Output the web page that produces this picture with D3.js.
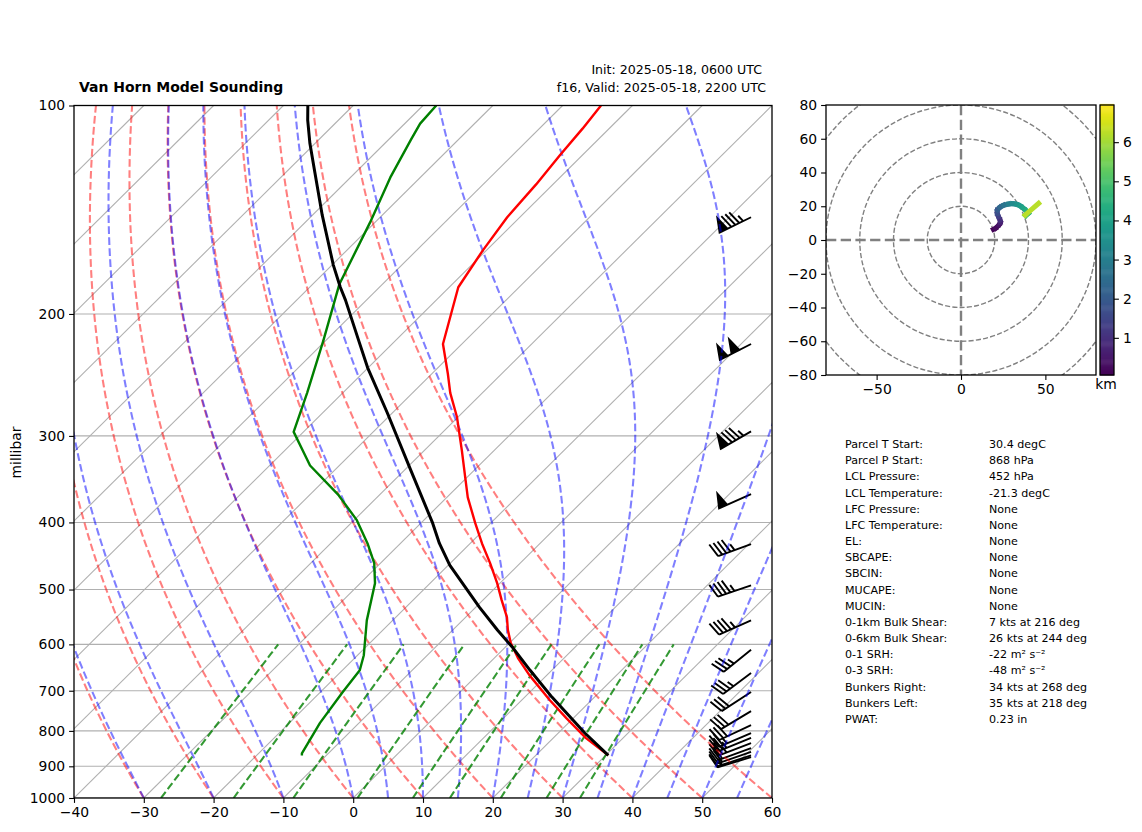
<!DOCTYPE html>
<html><head><meta charset="utf-8">
<script src="https://cdn.jsdelivr.net/npm/d3@7"></script>
<style>html,body{margin:0;padding:0;background:#fff}svg{display:block}text{font-family:"DejaVu Sans",sans-serif;fill:#000}</style>
</head><body><svg id="c" width="1142" height="832"></svg>
<script>
// ---- Sounding profiles (hPa, degC) ----
const tempP = [868,819.4,766.7,722,664.6,628,597.4,572,548,518,489.5,458,429,401,368,344,315,282,260,244,221,183,162,145,130,118,108,100];
const tempC = [30.4,24.7,19.0,14.0,7.5,3.4,0.2,-2.1,-4.1,-7.3,-10.4,-14.3,-18.3,-22.2,-27.0,-30.3,-34.6,-40.1,-44.6,-47.7,-52.7,-58.7,-60.5,-61.8,-62.4,-63.2,-63.8,-64.5];
const dewP = [868,862,779,703,654,622,554,489.5,458,429,397,365,331,296,260,218,181,147.5,127,112,106.2,100];
const dewC = [-13.5,-13.8,-15.6,-16.8,-17.5,-19.1,-23.7,-27.9,-30.9,-34.7,-39.6,-45.9,-54.2,-61.4,-65.1,-70.4,-76.2,-80.7,-84.3,-86.8,-87.8,-88.1];
const parcelP = [868,805.7,715,654,607,572,530,461,429,401,334,278,239,218,191,183,170,144,125,113.5,105,100];
const parcelC = [30.4,23.8,13.9,6.9,1.2,-3.6,-9.5,-19.8,-24.4,-28.3,-39.5,-50.7,-60.1,-65.4,-73.0,-75.6,-79.8,-88.6,-95.8,-100.7,-104.4,-106.5];
// ---- Wind barbs ----
const barbP = [145,221,295.5,364,430,493,554,611,660,703,749,785,806,819,833,847,858,868,873];
const barbDir = [244,243,240,246,250,251,246,231,233,237,239,245,247,248,249,250,251,252,253];
const barbKts = [85,100,85,50,45,45,45,35,35,30,30,30,25,25,25,20,20,15,15];
// ---- Hodograph trace (kts, km) ----
const hodoU = [19.2,20.5,22.5,23.3,23.1,22.2,21.5,21.6,23.1,25.3,28.1,30.5,33,35.2,37,38.6,39.9,38.4,38,46];
const hodoV = [6.3,7.0,8.9,10.4,11.9,13.9,15.8,17.8,19.4,20.6,21.3,21.5,21.1,20.1,18.8,17.4,15.8,14.5,14.8,21.7];
const hodoZ = [0.05,0.15,0.3,0.55,0.8,1.15,1.5,1.85,2.2,2.55,2.9,3.2,3.5,3.75,4.0,4.2,4.4,4.8,5.5,6.9];
// ---- Background line families ----
const dryT0 = d3.range(-40,61,10);
const moistT0 = [-40,-30,-20,-10,0,5,10,15,20,25,30,35,40,45,50,55,60];
const mixW = [0.0004,0.001,0.002,0.004,0.007,0.01,0.016,0.024,0.032];
const isoT = d3.range(-140,61,10);
const pTicks = [100,200,300,400,500,600,700,800,900,1000];
const tTicks = d3.range(-40,61,10);
const hodoRings = [20,40,60,80,100];
const hodoXTicks = [-50,0,50];
const hodoYTicks = d3.range(-80,81,20);
const cbarTicks = [1,2,3,4,5,6];
// ---- Texts ----
const tableLabels = ["Parcel T Start:","Parcel P Start:","LCL Pressure:","LCL Temperature:","LFC Pressure:","LFC Temperature:","EL:","SBCAPE:","SBCIN:","MUCAPE:","MUCIN:","0-1km Bulk Shear:","0-6km Bulk Shear:","0-1 SRH:","0-3 SRH:","Bunkers Right:","Bunkers Left:","PWAT:"];
const tableValues = ["30.4 degC","868 hPa","452 hPa","-21.3 degC","None","None","None","None","None","None","None","7 kts at 216 deg","26 kts at 244 deg","-22 m² s⁻²","-48 m² s⁻²","34 kts at 268 deg","35 kts at 218 deg","0.23 in"];

const svg = d3.select("#c");
const fmtMinus = d => String(d).replace("-","\u2212");

// Main axes
const L=74,R=772,T=105.5,B=798;
const x = d3.scaleLinear().domain([-40,60]).range([L,R]);
const y = d3.scaleLog().domain([1000,100]).range([B,T]);
const skewK = (R-L)/(B-T);
const sx = (t,p) => x(t) + skewK*(B-y(p));
const line = d3.line().x(d=>sx(d[1],d[0])).y(d=>y(d[0]));
const defs = svg.append("defs");
defs.append("clipPath").attr("id","clipMain").append("rect").attr("x",L).attr("y",T).attr("width",R-L).attr("height",B-T);

const main = svg.append("g").attr("clip-path","url(#clipMain)");
// grid
main.append("g").selectAll("line").data(pTicks).join("line")
  .attr("x1",L).attr("x2",R).attr("y1",d=>y(d)).attr("y2",d=>y(d)).attr("stroke","#b0b0b0").attr("stroke-width",1.1);
main.append("g").selectAll("path").data(isoT).join("path")
  .attr("d",t=>line([[1000,t],[100,t]])).attr("fill","none").attr("stroke","#b0b0b0").attr("stroke-width",1.1);

// barbs, under the thermodynamic lines
const barbLen=35,barbH=barbLen*0.4,barbW=barbLen*0.25,barbS=barbLen*0.125;
const barbX = x(-40)+0.97*(R-L);
function barbPath(p,dir,kts){
  const ox=barbX, oy=y(p), a=dir*Math.PI/180;
  const dx=Math.sin(a), dy=-Math.cos(a);   // staff points toward the source of the wind
  const nx=-dy, ny=dx;
  const P=(s,h)=>[ox+dx*s+nx*h, oy+dy*s+ny*h].map(v=>v.toFixed(2)).join(",");
  let r=Math.round(kts/5)*5, nF=Math.floor(r/50); r-=nF*50;
  let nB=Math.floor(r/10); r-=nB*10; const half=r>=5;
  let d=`M${P(0,0)}L${P(barbLen,0)}`, off=0;
  for(let i=0;i<nF;i++){ d+=`M${P(barbLen-off,0)}L${P(barbLen-off-barbW/2,barbH)}L${P(barbLen-off-barbW,0)}Z`; off+=barbW+barbS; }
  for(let i=0;i<nB;i++){ d+=`M${P(barbLen-off,0)}L${P(barbLen-off+barbW/2,barbH)}`; off+=barbS; }
  if(half){ if(nF+nB===0) off+=barbS; d+=`M${P(barbLen-off,0)}L${P(barbLen-off+barbW/4,barbH/2)}`; }
  return d;
}
main.append("g").selectAll("path").data(barbP).join("path")
  .attr("d",(p,i)=>barbPath(p,barbDir[i],barbKts[i])).attr("fill","#000").attr("stroke","#000").attr("stroke-width",1.9);

// dry adiabats (Poisson)
const logLevels = d3.range(0,101).map(i=>1000*Math.pow(10,-i/100));
const dash="7.7 3.33";
main.append("g").selectAll("path").data(dryT0).join("path")
  .attr("d",t0=>line(logLevels.map(p=>[p,(t0+273.15)*Math.pow(p/1000,0.28571)-273.15])))
  .attr("fill","none").attr("stroke","#f00").attr("stroke-opacity",0.5).attr("stroke-width",2.08).attr("stroke-dasharray",dash);

// moist adiabats (pseudoadiabatic lapse rate integrated from 1000 hPa)
function moistProfile(t0){
  const Rd=287.05,cp=1005,Lv=2.501e6,eps=0.622;
  const f=(Tk,p)=>{const tc=Tk-273.15,es=6.112*Math.exp(17.67*tc/(tc+243.5)),rs=eps*es/(p-es);
    return (Rd*Tk+Lv*rs)/(cp+Lv*Lv*rs*eps/(Rd*Tk*Tk));};
  let Tk=t0+273.15; const out=[];
  for(let i=0;i<logLevels.length;i++){
    const p=logLevels[i]; out.push([p,Tk-273.15]);
    if(i<logLevels.length-1){
      const p2=logLevels[i+1],h=Math.log(p2/p),pm=Math.sqrt(p*p2);
      const k1=f(Tk,p),k2=f(Tk+h*k1/2,pm),k3=f(Tk+h*k2/2,pm),k4=f(Tk+h*k3,p2);
      Tk+=h*(k1+2*k2+2*k3+k4)/6;
    }
  }
  return out;
}
main.append("g").selectAll("path").data(moistT0).join("path")
  .attr("d",t0=>line(moistProfile(t0)))
  .attr("fill","none").attr("stroke","#00f").attr("stroke-opacity",0.5).attr("stroke-width",2.08).attr("stroke-dasharray",dash);

// mixing ratio lines
const mixLevels=d3.range(600,1001,20).reverse();
const dewOf=(w,p)=>{const e=w*p/(0.622+w),l=Math.log(e/6.112);return 243.5*l/(17.67-l);};
main.append("g").selectAll("path").data(mixW).join("path")
  .attr("d",w=>line(mixLevels.map(p=>[p,dewOf(w,p)])))
  .attr("fill","none").attr("stroke","#008000").attr("stroke-opacity",0.8).attr("stroke-width",2.08).attr("stroke-dasharray",dash);

// profiles
const prof=(P,C,col,w)=>main.append("path").attr("d",line(P.map((p,i)=>[p,C[i]])))
  .attr("fill","none").attr("stroke",col).attr("stroke-width",w).attr("stroke-linejoin","round");
prof(tempP,tempC,"#f00",2.4);
prof(dewP,dewC,"#008000",2.4);
prof(parcelP,parcelC,"#000",3);

// main axes frame and ticks
const styleAxis=g=>{g.selectAll("text").attr("font-size",13.9).attr("font-family","DejaVu Sans");
  g.selectAll("line").attr("stroke","#000").attr("stroke-width",1.1);g.select(".domain").remove();};
const frame=(l,t,r,b)=>svg.append("rect").attr("x",l).attr("y",t).attr("width",r-l).attr("height",b-t)
  .attr("fill","none").attr("stroke","#000").attr("stroke-width",1.3);
svg.append("g").attr("transform",`translate(0,${B})`)
  .call(d3.axisBottom(x).tickValues(tTicks).tickFormat(fmtMinus).tickSize(4.9).tickPadding(4)).call(styleAxis);
svg.append("g").attr("transform",`translate(${L},0)`)
  .call(d3.axisLeft(y).tickValues(pTicks).tickFormat(d=>d).tickSize(4.9).tickPadding(4)).call(styleAxis);
frame(L,T,R,B);
svg.append("text").attr("transform","translate(21,452.5) rotate(-90)").attr("text-anchor","middle").attr("font-size",13.9).text("millibar");
svg.append("text").attr("x",79).attr("y",92).attr("font-size",13.97).attr("font-weight","bold").text("Van Horn Model Sounding");
svg.append("text").attr("x",762).attr("y",74).attr("text-anchor","end").attr("font-size",12.6).text("Init: 2025-05-18, 0600 UTC");
svg.append("text").attr("x",766).attr("y",92).attr("text-anchor","end").attr("font-size",12.6).text("f16, Valid: 2025-05-18, 2200 UTC");

// Hodograph
const hL=826,hR=1096,hT=105,hB=375;
const hx=d3.scaleLinear().domain([-80,80]).range([hL,hR]);
const hy=d3.scaleLinear().domain([-80,80]).range([hB,hT]);
defs.append("clipPath").attr("id","clipHodo").append("rect").attr("x",hL).attr("y",hT).attr("width",hR-hL).attr("height",hB-hT);
const hodo=svg.append("g").attr("clip-path","url(#clipHodo)");
hodo.selectAll("circle").data(hodoRings).join("circle")
  .attr("cx",hx(0)).attr("cy",hy(0)).attr("r",d=>hx(d)-hx(0)).attr("fill","none")
  .attr("stroke","#808080").attr("stroke-width",1.39).attr("stroke-dasharray","5.1 2.2");
hodo.append("line").attr("x1",hL).attr("x2",hR).attr("y1",hy(0)).attr("y2",hy(0)).attr("stroke","#808080").attr("stroke-width",2.4).attr("stroke-dasharray","10.3 4.4");
hodo.append("line").attr("y1",hT).attr("y2",hB).attr("x1",hx(0)).attr("x2",hx(0)).attr("stroke","#808080").attr("stroke-width",2.4).attr("stroke-dasharray","10.3 4.4");
const zScale=d3.scaleSequential(d3.interpolateViridis).domain([0.05,6.95]);
hodo.append("g").selectAll("line").data(d3.range(hodoU.length-1)).join("line")
  .attr("x1",i=>hx(hodoU[i])).attr("y1",i=>hy(hodoV[i])).attr("x2",i=>hx(hodoU[i+1])).attr("y2",i=>hy(hodoV[i+1]))
  .attr("stroke",i=>zScale((hodoZ[i]+hodoZ[i+1])/2)).attr("stroke-width",5).attr("stroke-linecap","square");
svg.append("g").attr("transform",`translate(0,${hB})`)
  .call(d3.axisBottom(hx).tickValues(hodoXTicks).tickFormat(fmtMinus).tickSize(4.9).tickPadding(4)).call(styleAxis);
svg.append("g").attr("transform",`translate(${hL},0)`)
  .call(d3.axisLeft(hy).tickValues(hodoYTicks).tickFormat(fmtMinus).tickSize(4.9).tickPadding(4)).call(styleAxis);
frame(hL,hT,hR,hB);

// Colorbar
const cL=1100,cR=1114;
const cy=d3.scaleLinear().domain([0.05,6.95]).range([hB,hT]);
const cbarSteps=d3.range(0,256).map(i=>0.05+6.9*i/255);
svg.append("g").selectAll("rect").data(cbarSteps).join("rect")
  .attr("x",cL).attr("width",cR-cL).attr("y",d=>cy(d)-1.1).attr("height",1.6).attr("fill",d=>zScale(d));
svg.append("g").attr("transform",`translate(${cR},0)`)
  .call(d3.axisRight(cy).tickValues(cbarTicks).tickFormat(d=>d).tickSize(4.9).tickPadding(4)).call(styleAxis);
frame(cL,hT,cR,hB);
svg.append("text").attr("x",1106).attr("y",389).attr("text-anchor","middle").attr("font-size",13.9).text("km");

// Parameter table
const rowY=d3.scaleLinear().domain([0,17]).range([448,723]);
const tbl=svg.append("g").attr("font-size",11.1);
tbl.selectAll("text.l").data(tableLabels).join("text").attr("class","l").attr("x",845).attr("y",(d,i)=>rowY(i)).text(d=>d);
tbl.selectAll("text.v").data(tableValues).join("text").attr("class","v").attr("x",989).attr("y",(d,i)=>rowY(i)).text(d=>d);
</script></body></html>
